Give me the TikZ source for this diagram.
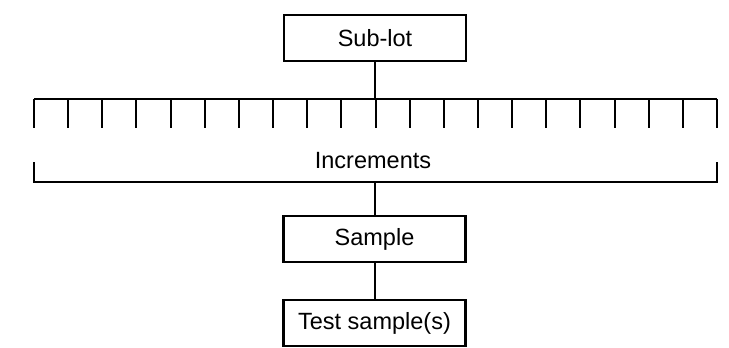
\documentclass[tikz,border=0pt]{standalone}
\usepackage{fontspec}
\setmainfont{Liberation Sans}
\usetikzlibrary{calc}
\begin{document}
\begin{tikzpicture}[x=1pt,y=-1pt,
  line width=2pt,
  boxnode/.style={draw,line width=2.2pt,minimum width=182pt,minimum height=46pt,inner sep=0pt,font=\fontsize{23.5pt}{26pt}\selectfont},
  labelnode/.style={inner sep=0pt,font=\fontsize{23.5pt}{26pt}\selectfont}]
\useasboundingbox (0,0) rectangle (729,348);
\node[boxnode] (sublot) at (375,38) {Sub-lot};
\node[boxnode] (sample) at (374.5,239) {Sample};
\node[boxnode] (test) at (374.5,323) {Test sample(s)};
\node[labelnode] (incr) at (373,161) {Increments};
% increments bar
\coordinate (barL) at (34,99);
\coordinate (barR) at (717,99);
\coordinate (barC) at (375.5,99);
\draw (barL) -- (barR);
\foreach \i in {0,...,20}{
  \draw ($(barL)!\i/20!(barR)$) -- ++(0,29);
}
% bracket
\coordinate (brL) at (34,162);
\coordinate (brR) at (717,162);
\coordinate (brC) at (375,182);
\draw (brL) -- (34,182) -- (717,182) -- (brR);
% connectors
\draw (sublot.south) -- (sublot.south |- barC);
\draw (sample.north |- brC) -- (sample.north);
\draw (sample.south) -- (test.north);
\end{tikzpicture}
\end{document}
